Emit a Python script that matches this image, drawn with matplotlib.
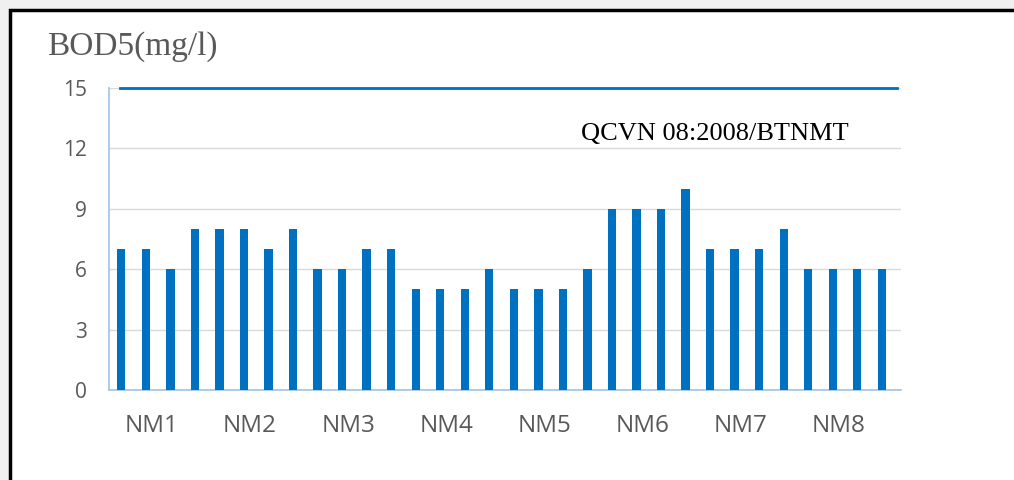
import matplotlib
matplotlib.use("Agg")
import matplotlib.pyplot as plt
from matplotlib.patches import Rectangle
import numpy as np

groups = ["NM1", "NM2", "NM3", "NM4", "NM5", "NM6", "NM7", "NM8"]
bod5 = [7, 7, 6, 8,
        8, 8, 7, 8,
        6, 6, 7, 7,
        5, 5, 5, 6,
        5, 5, 5, 6,
        9, 9, 9, 10,
        7, 7, 7, 8,
        6, 6, 6, 6]
standard = 15
yticks = [0, 3, 6, 9, 12, 15]
standard_label = "QCVN 08:2008/BTNMT"
ylabel = "BOD5(mg/l)"

blue = "#0070C0"
gray_text = "#595959"

fig = plt.figure(figsize=(10.14, 4.8), dpi=100)
fig.patch.set_facecolor("#f0f0f0")
# white panel with black frame
frame = Rectangle((10/1014, -0.05), 1.1, (480-10)/480 + 0.05,
                  transform=fig.transFigure, facecolor="white",
                  edgecolor="black", linewidth=2.5, zorder=-5)
fig.patches.append(frame)

ax = fig.add_axes([109/1014, 90/480, (901-109)/1014, (390-88)/480])
ax.set_zorder(2)
ax.set_facecolor("white")
x = np.arange(len(bod5))
ax.bar(x, bod5, width=0.34, color=blue, zorder=3)
ax.plot([-0.05, 31.6], [standard, standard], color=blue, lw=2, zorder=4, clip_on=False)

ax.set_xlim(-0.5, 31.78)
ax.set_ylim(0, 15)
ax.set_yticks(yticks)
ax.set_yticklabels([str(v) for v in yticks], fontsize=15, color=gray_text, family="Open Sans")
ax.yaxis.grid(True, color="#d9d9d9", lw=1, zorder=0)
ax.tick_params(axis="y", length=0, pad=16)
ax.tick_params(axis="x", length=0, pad=17)
ax.set_xticks(np.arange(len(groups)) * 4 + 1.25)
ax.set_xticklabels(groups, fontsize=17.5, color=gray_text, family="Open Sans")

for s in ["top", "right"]:
    ax.spines[s].set_visible(False)
for s in ["left", "bottom"]:
    ax.spines[s].set_color("#9dc3e6")
    ax.spines[s].set_linewidth(1.2)

fig.text(47/1014, 1 - 47/480, ylabel, fontsize=24, color=gray_text,
         family="Liberation Serif", ha="left", va="center", zorder=5)
fig.text(715/1014, 1 - 134/480, standard_label, fontsize=19, color="black",
         family="Liberation Serif", ha="center", va="center", zorder=5)

fig.savefig("out.png", dpi=100, facecolor=fig.get_facecolor())
